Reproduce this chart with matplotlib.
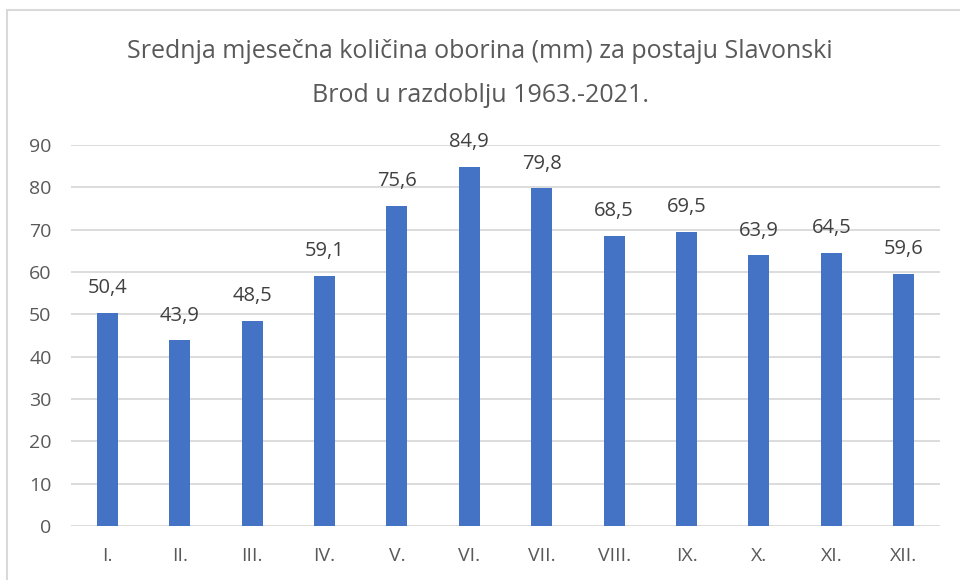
import matplotlib
matplotlib.use("Agg")
import matplotlib.pyplot as plt
from matplotlib.patches import Rectangle

months = ["I.", "II.", "III.", "IV.", "V.", "VI.", "VII.", "VIII.", "IX.", "X.", "XI.", "XII."]
values = [50.4, 43.9, 48.5, 59.1, 75.6, 84.9, 79.8, 68.5, 69.5, 63.9, 64.5, 59.6]
yticks = [0, 10, 20, 30, 40, 50, 60, 70, 80, 90]
title = "Srednja mjesečna količina oborina (mm) za postaju Slavonski\nBrod u razdoblju 1963.-2021."

plt.rcParams['font.family'] = ['Open Sans', 'DejaVu Sans']

W, H = 960, 580
fig = plt.figure(figsize=(W/100, H/100), dpi=100)
fig.patch.set_facecolor('white')

# chart border
fig.add_artist(Rectangle((7/W, -0.1), 1.2, (H-10)/H + 0.1, transform=fig.transFigure,
                         fill=False, edgecolor='#d9d9d9', linewidth=1.5))

left, right = 71/W, 940/W
bottom, top = (H-526)/H, (H-145)/H
ax = fig.add_axes([left, bottom, right-left, top-bottom])

x = range(len(months))
ax.bar(x, values, width=0.29, color='#4472c4', zorder=3)
ax.set_xlim(-0.5, len(months)-0.5)
ax.set_ylim(0, 90)
ax.set_yticks(yticks)
ax.set_xticks(list(x))
ax.set_xticklabels(months)
ax.grid(axis='y', color='#d9d9d9', linewidth=1.3, zorder=0)
for s in ax.spines.values():
    s.set_visible(False)
ax.tick_params(axis='both', length=0, colors='#595959', labelsize=14)
ax.tick_params(axis='x', pad=15)
ax.tick_params(axis='y', pad=14)

for i, v in enumerate(values):
    ax.annotate(f"{v:.1f}".replace('.', ','), (i, v), xytext=(0, 10.5),
                textcoords='offset points', ha='center', va='bottom',
                fontsize=14.5, color='#404040')

fig.text(0.5, (H-73)/H, title, ha='center', va='center', fontsize=18,
         color='#595959', linespacing=2.0)

fig.savefig('out.png', dpi=100)
